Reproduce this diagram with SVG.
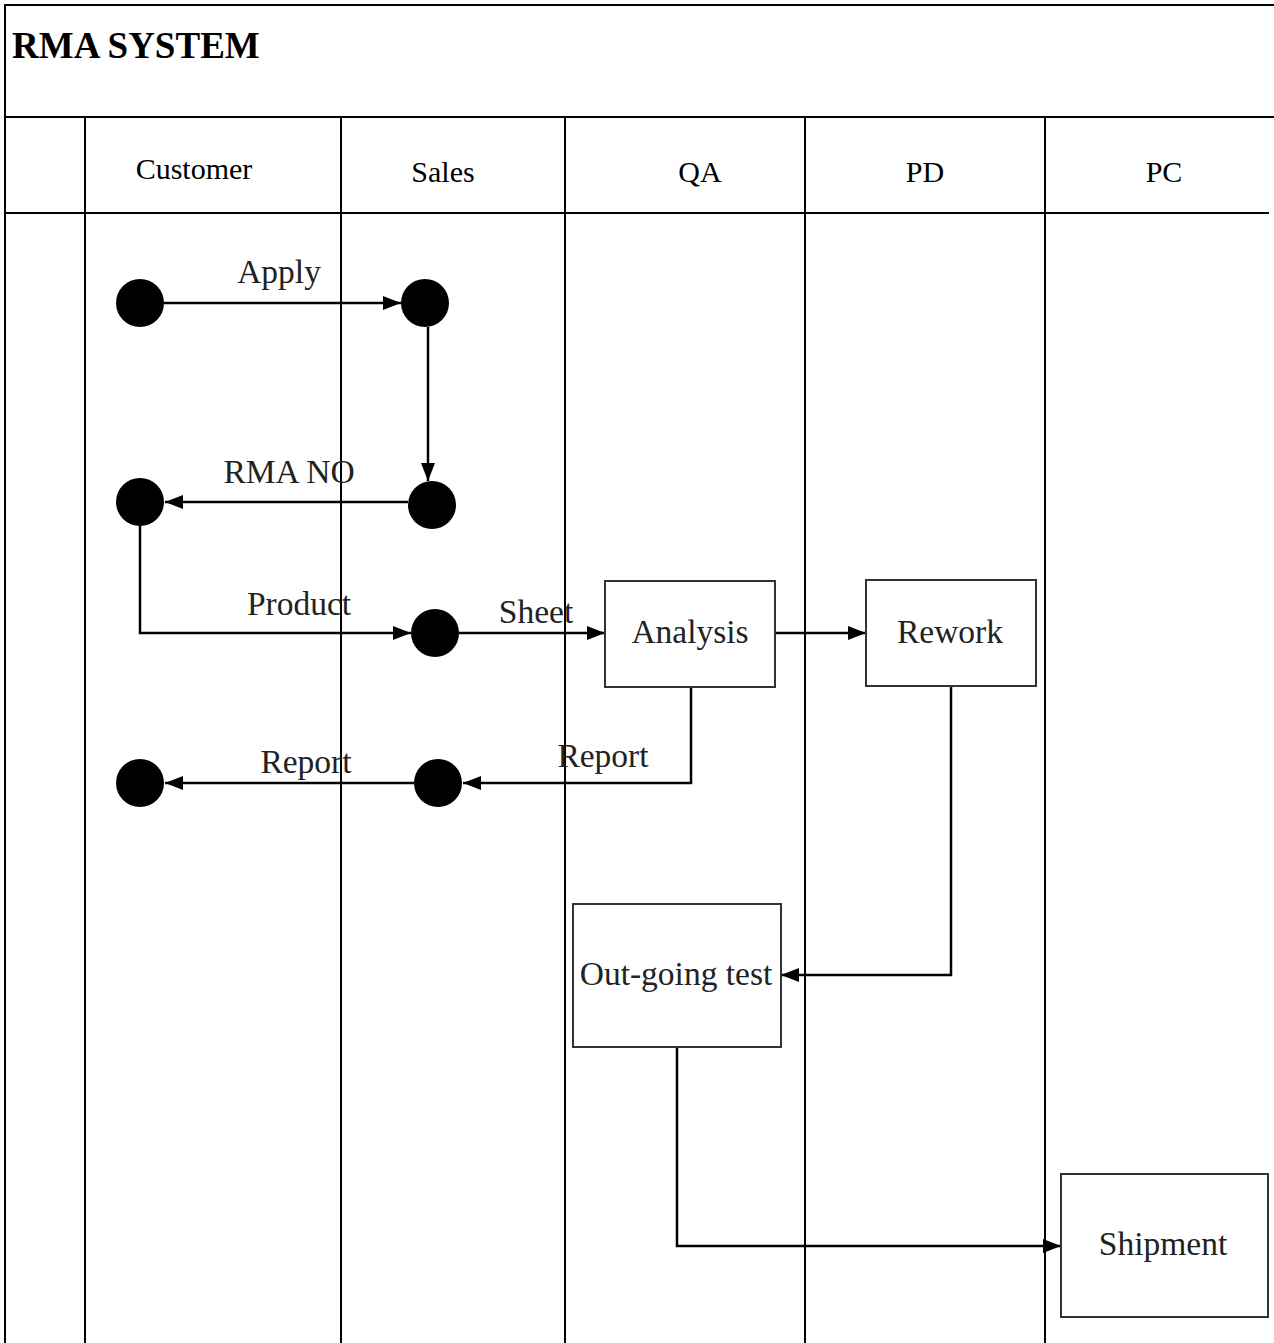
<svg xmlns="http://www.w3.org/2000/svg" width="1274" height="1343" viewBox="0 0 1274 1343">
<style>
.grid{stroke:#000;stroke-width:2;fill:none}
.hdr{font-family:"Liberation Serif",serif;font-size:30px;fill:#000;text-anchor:middle}
.lbl{font-family:"Liberation Serif",serif;font-size:33.5px;fill:#222;text-anchor:middle}
.box{fill:#fff;stroke:#333;stroke-width:2}
.dot{fill:#000}
.con{stroke:#000;stroke-width:2.5;fill:none}
</style>
<defs>
<marker id="ah" markerUnits="userSpaceOnUse" markerWidth="18" markerHeight="14" refX="18" refY="7" orient="auto">
<path d="M0,0 L18,7 L0,14 Z" fill="#000"/>
</marker>
</defs>
<rect width="1274" height="1343" fill="#fff"/>
<g id="table">
<line class="grid" x1="5" y1="5" x2="1274" y2="5"/>
<line class="grid" x1="5" y1="4" x2="5" y2="1343"/>
<line class="grid" x1="5" y1="117" x2="1274" y2="117"/>
<line class="grid" x1="5" y1="213" x2="1269" y2="213"/>
<line class="grid" x1="85" y1="117" x2="85" y2="1343"/>
<line class="grid" x1="341" y1="117" x2="341" y2="1343"/>
<line class="grid" x1="565" y1="117" x2="565" y2="1343"/>
<line class="grid" x1="805" y1="117" x2="805" y2="1343"/>
<line class="grid" x1="1045" y1="117" x2="1045" y2="1343"/>
<text x="12" y="58" font-family="'Liberation Serif',serif" font-size="37" font-weight="bold" fill="#000">RMA SYSTEM</text>
<text class="hdr" x="194" y="179">Customer</text>
<text class="hdr" x="443" y="182">Sales</text>
<text class="hdr" x="700" y="182">QA</text>
<text class="hdr" x="925" y="182">PD</text>
<text class="hdr" x="1164" y="182">PC</text>
</g>
<g id="connectors">
<line class="con" x1="164" y1="303" x2="401" y2="303" marker-end="url(#ah)"/>
<line class="con" x1="428" y1="327" x2="428" y2="481" marker-end="url(#ah)"/>
<line class="con" x1="408" y1="502" x2="165" y2="502" marker-end="url(#ah)"/>
<polyline class="con" points="140,526 140,633 411,633" marker-end="url(#ah)"/>
<line class="con" x1="459" y1="633" x2="605" y2="633" marker-end="url(#ah)"/>
<line class="con" x1="775" y1="633" x2="866" y2="633" marker-end="url(#ah)"/>
<polyline class="con" points="691,687 691,783 463,783" marker-end="url(#ah)"/>
<line class="con" x1="414" y1="783" x2="165" y2="783" marker-end="url(#ah)"/>
<polyline class="con" points="951,686 951,975 781,975" marker-end="url(#ah)"/>
<polyline class="con" points="677,1047 677,1246 1061,1246" marker-end="url(#ah)"/>
<text class="lbl" x="279" y="283">Apply</text>
<text class="lbl" x="289" y="483">RMA NO</text>
<text class="lbl" x="299" y="615">Product</text>
<text class="lbl" x="536" y="623">Sheet</text>
<text class="lbl" x="306" y="773">Report</text>
<text class="lbl" x="603" y="767">Report</text>
</g>
<g id="n-apply-src"><circle class="dot" cx="140" cy="303" r="24"/></g>
<g id="n-apply-dst"><circle class="dot" cx="425" cy="303" r="24"/></g>
<g id="n-rma-src"><circle class="dot" cx="432" cy="505" r="24"/></g>
<g id="n-rma-dst"><circle class="dot" cx="140" cy="502" r="24"/></g>
<g id="n-product"><circle class="dot" cx="435" cy="633" r="24"/></g>
<g id="n-report-sales"><circle class="dot" cx="438" cy="783" r="24"/></g>
<g id="n-report-cust"><circle class="dot" cx="140" cy="783" r="24"/></g>
<g id="n-analysis"><rect class="box" x="605" y="581" width="170" height="106"/><text class="lbl" x="690" y="643">Analysis</text></g>
<g id="n-rework"><rect class="box" x="866" y="580" width="170" height="106"/><text class="lbl" x="950" y="643">Rework</text></g>
<g id="n-outgoing"><rect class="box" x="573" y="904" width="208" height="143"/><text class="lbl" x="676" y="985">Out-going test</text></g>
<g id="n-shipment"><rect class="box" x="1061" y="1174" width="207" height="143"/><text class="lbl" x="1163" y="1255">Shipment</text></g>
</svg>
